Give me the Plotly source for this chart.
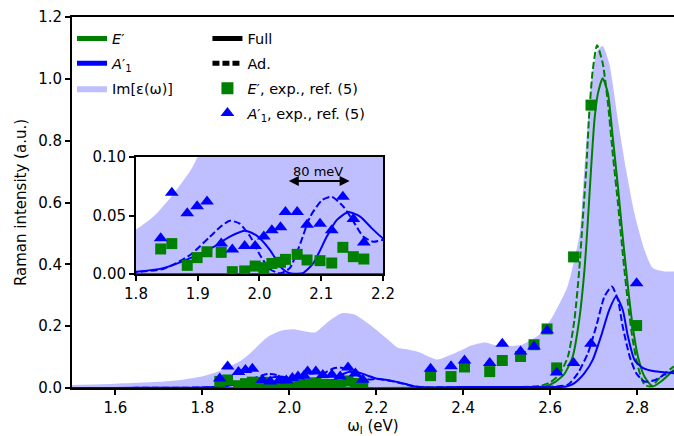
import plotly.graph_objects as go

# ---------------- data ----------------
eps_x = [1.50, 1.60, 1.70, 1.75, 1.80, 1.83, 1.86, 1.89, 1.91, 1.93, 1.95, 1.98, 2.01, 2.04, 2.06,
         2.09, 2.12, 2.15, 2.18, 2.22, 2.25, 2.27, 2.30, 2.34, 2.38, 2.42, 2.45, 2.47, 2.50, 2.535,
         2.58, 2.61, 2.64, 2.668, 2.676, 2.687, 2.698, 2.710, 2.721, 2.736, 2.756, 2.775, 2.794,
         2.817, 2.836, 2.863, 2.885]
eps_y = [0.010, 0.014, 0.020, 0.026, 0.038, 0.050, 0.068, 0.090, 0.112, 0.140, 0.165, 0.185, 0.190,
         0.182, 0.180, 0.215, 0.242, 0.238, 0.210, 0.165, 0.130, 0.125, 0.115, 0.092, 0.112, 0.138,
         0.147, 0.140, 0.135, 0.140, 0.178, 0.242, 0.328, 0.500, 0.650, 0.867, 1.028, 1.093, 1.106,
         1.050, 0.867, 0.705, 0.565, 0.447, 0.388, 0.377, 0.377]

e_full_x = [1.50, 1.80, 2.00, 2.20, 2.40, 2.50, 2.55, 2.59, 2.61, 2.633, 2.652, 2.667, 2.679, 2.687,
            2.694, 2.702, 2.710, 2.721, 2.733, 2.744, 2.756, 2.767, 2.779, 2.790, 2.802, 2.817,
            2.836, 2.855, 2.885]
e_full_y = [0.000, 0.000, 0.000, 0.000, 0.001, 0.002, 0.003, 0.006, 0.018, 0.046, 0.102, 0.221, 0.382,
            0.544, 0.705, 0.867, 0.953, 1.002, 0.953, 0.813, 0.651, 0.490, 0.328, 0.199, 0.102,
            0.037, 0.005, 0.021, 0.059]

e_ad_x = [1.50, 1.80, 2.00, 2.20, 2.40, 2.50, 2.55, 2.58, 2.60, 2.621, 2.641, 2.656, 2.667, 2.675,
          2.683, 2.690, 2.698, 2.708, 2.721, 2.733, 2.744, 2.756, 2.767, 2.779, 2.790, 2.802, 2.817,
          2.832, 2.855, 2.885]
e_ad_y = [0.000, 0.000, 0.000, 0.000, 0.001, 0.002, 0.004, 0.008, 0.018, 0.043, 0.102, 0.221, 0.382,
          0.544, 0.705, 0.888, 1.028, 1.109, 1.050, 0.921, 0.759, 0.598, 0.436, 0.275, 0.156, 0.070,
          0.011, 0.005, 0.037, 0.070]

a_full_x = [1.50, 1.60, 1.70, 1.75, 1.80, 1.844, 1.887, 1.925, 1.952, 1.977, 1.995, 2.017, 2.036,
            2.049, 2.060, 2.071, 2.087, 2.109, 2.125, 2.144, 2.163, 2.182, 2.200, 2.225, 2.250,
            2.270, 2.290, 2.320, 2.400, 2.500, 2.600, 2.637, 2.656, 2.679, 2.698, 2.717, 2.736,
            2.752, 2.767, 2.779, 2.794, 2.813, 2.840, 2.885]
a_full_y = [0.000, 0.000, 0.001, 0.001, 0.002, 0.005, 0.0134, 0.023, 0.032, 0.037, 0.033, 0.0205,
            0.005, 0.0006, 0.0003, 0.001, 0.009, 0.032, 0.046, 0.053, 0.049, 0.039, 0.0305, 0.026,
            0.019, 0.012, 0.005, 0.002, 0.003, 0.003, 0.003, 0.005, 0.016, 0.048, 0.091, 0.167,
            0.253, 0.296, 0.253, 0.167, 0.091, 0.065, 0.054, 0.048]

a_ad_x = [1.50, 1.60, 1.70, 1.75, 1.80, 1.844, 1.887, 1.920, 1.936, 1.952, 1.968, 1.985, 2.001,
          2.017, 2.034, 2.049, 2.066, 2.082, 2.101, 2.117, 2.136, 2.152, 2.168, 2.184, 2.200,
          2.225, 2.250, 2.270, 2.290, 2.320, 2.400, 2.500, 2.600, 2.641, 2.664, 2.687, 2.706,
          2.725, 2.742, 2.756, 2.767, 2.783, 2.798, 2.817, 2.840, 2.863, 2.885]
a_ad_y = [0.000, 0.000, 0.001, 0.001, 0.0017, 0.0043, 0.016, 0.032, 0.040, 0.0456, 0.043, 0.032,
          0.016, 0.004, 0.0006, 0.005, 0.026, 0.049, 0.063, 0.066, 0.0575, 0.045, 0.032, 0.0276,
          0.029, 0.025, 0.018, 0.011, 0.004, 0.002, 0.003, 0.003, 0.004, 0.011, 0.048, 0.113,
          0.199, 0.296, 0.328, 0.285, 0.199, 0.102, 0.048, 0.021, 0.025, 0.043, 0.054]

exp_x = [1.840, 1.858, 1.883, 1.899, 1.915, 1.938, 1.956, 1.976, 1.993, 2.007, 2.020, 2.034, 2.042,
         2.061, 2.077, 2.098, 2.117, 2.135, 2.152, 2.169, 2.325, 2.372, 2.403, 2.461, 2.490, 2.532,
         2.563, 2.593, 2.615, 2.654, 2.694, 2.799]
e_exp_y = [0.0214, 0.026, 0.0074, 0.014, 0.019, 0.0185, 0.002, 0.0026, 0.0068, 0.0054, 0.009, 0.010,
           0.0125, 0.0168, 0.012, 0.0114, 0.0094, 0.0228, 0.0148, 0.0128, 0.040, 0.037, 0.068,
           0.053, 0.089, 0.102, 0.140, 0.191, 0.065, 0.424, 0.915, 0.202]
a_exp_y = [0.0305, 0.0695, 0.052, 0.058, 0.062, 0.026, 0.021, 0.024, 0.024, 0.032, 0.0375, 0.040,
           0.053, 0.053, 0.042, 0.043, 0.0375, 0.066, 0.047, 0.027, 0.062, 0.070, 0.089, 0.081,
           0.143, 0.118, 0.134, 0.186, 0.050, 0.081, 0.143, 0.339]

main_xticks = [1.6, 1.8, 2.0, 2.2, 2.4, 2.6, 2.8]
main_xlabels = ["1.6", "1.8", "2.0", "2.2", "2.4", "2.6", "2.8"]
main_yticks = [0.0, 0.2, 0.4, 0.6, 0.8, 1.0, 1.2]
main_ylabels = ["0.0", "0.2", "0.4", "0.6", "0.8", "1.0", "1.2"]
inset_xticks = [1.8, 1.9, 2.0, 2.1, 2.2]
inset_xlabels = ["1.8", "1.9", "2.0", "2.1", "2.2"]
inset_yticks = [0.0, 0.05, 0.10]
inset_ylabels = ["0.00", "0.05", "0.10"]

GREEN = "#008000"
BLUE = "#0000ff"
FILL = "rgba(0,0,255,0.25)"
FONT = "DejaVu Sans"
DASH = "7px,3px"

fig = go.Figure()

def add_set(xa, ya, show):
    main = dict(showlegend=show, xaxis=xa, yaxis=ya)
    fig.add_trace(go.Scatter(x=eps_x, y=eps_y, mode="lines", fill="tozeroy", fillcolor=FILL,
                             line=dict(width=0, shape="spline", smoothing=0.6),
                             name="Im[ε(ω)]", legend="legend", legendrank=3,
                             legendgroup="g3" if show else None, hoverinfo="skip", **main))
    fig.add_trace(go.Scatter(x=e_full_x, y=e_full_y, mode="lines",
                             line=dict(color=GREEN, width=2, shape="spline", smoothing=0.6),
                             name="<i>E</i>′", legend="legend", legendrank=1,
                             legendgroup="g1" if show else None, **main))
    fig.add_trace(go.Scatter(x=e_ad_x, y=e_ad_y, mode="lines",
                             line=dict(color=GREEN, width=2, dash=DASH, shape="spline", smoothing=0.6),
                             showlegend=False, xaxis=xa, yaxis=ya))
    fig.add_trace(go.Scatter(x=a_full_x, y=a_full_y, mode="lines",
                             line=dict(color=BLUE, width=2, shape="spline", smoothing=0.6),
                             name="<i>A</i>′<sub>1</sub>", legend="legend", legendrank=2,
                             legendgroup="g2" if show else None, **main))
    fig.add_trace(go.Scatter(x=a_ad_x, y=a_ad_y, mode="lines",
                             line=dict(color=BLUE, width=2, dash=DASH, shape="spline", smoothing=0.6),
                             showlegend=False, xaxis=xa, yaxis=ya))
    fig.add_trace(go.Scatter(x=exp_x, y=e_exp_y, mode="markers",
                             marker=dict(symbol="square", size=11, color=GREEN),
                             name="<i>E</i>′, exp., ref. (5)", legend="legend2", legendrank=3,
                             legendgroup="h3" if show else None, **main))
    fig.add_trace(go.Scatter(x=exp_x, y=a_exp_y, mode="markers",
                             marker=dict(symbol="triangle-up", size=12, color=BLUE),
                             name="<i>A</i>′<sub>1</sub>, exp., ref. (5)", legend="legend2",
                             legendrank=4, legendgroup="h4" if show else None, **main))

add_set("x", "y", True)
add_set("x2", "y2", False)

# legend-only style entries
fig.add_trace(go.Scatter(x=[None], y=[None], mode="lines", line=dict(color="black", width=2),
                         name="Full", legend="legend2", legendrank=1, legendgroup="h1"))
fig.add_trace(go.Scatter(x=[None], y=[None], mode="lines", line=dict(color="black", width=2, dash=DASH),
                         name="Ad.", legend="legend2", legendrank=2, legendgroup="h2"))

axis_common = dict(showline=True, linecolor="black", linewidth=2, ticks="outside", ticklen=5,
                   tickwidth=1.5, tickcolor="black", showgrid=False, zeroline=False,
                   tickfont=dict(family=FONT, size=15, color="black"))

fig.update_layout(
    width=674, height=436,
    margin=dict(l=72, r=0, t=17, b=48, autoexpand=False),
    paper_bgcolor="white", plot_bgcolor="white",
    font=dict(family=FONT, size=15, color="black"),
    xaxis=dict(range=[1.5, 2.885], tickvals=main_xticks, ticktext=main_xlabels, mirror=True,
               automargin=False,
               title=dict(text="ω<sub>l</sub> (eV)", font=dict(family=FONT, size=15), standoff=4),
               **axis_common),
    yaxis=dict(range=[0, 1.2], tickvals=main_yticks, ticktext=main_ylabels, mirror=False,
               automargin=False,
               title=dict(text="Raman intensity (a.u.)", font=dict(family=FONT, size=15), standoff=8),
               **axis_common),
    xaxis2=dict(domain=[0.1063, 0.5166], anchor="y2", range=[1.8, 2.2], tickvals=inset_xticks,
                ticktext=inset_xlabels, mirror=True, automargin=False, **axis_common),
    yaxis2=dict(domain=[0.3073, 0.6226], anchor="x2", range=[0, 0.10], tickvals=inset_yticks,
                ticktext=inset_ylabels, mirror=True, automargin=False, **axis_common),
    legend=dict(x=0.0, y=0.985, xanchor="left", yanchor="top", bgcolor="rgba(0,0,0,0)",
                font=dict(family=FONT, size=14.5), tracegroupgap=3, itemsizing="constant"),
    legend2=dict(x=0.225, y=0.985, xanchor="left", yanchor="top", bgcolor="rgba(0,0,0,0)",
                 font=dict(family=FONT, size=14.5), tracegroupgap=3, itemsizing="constant"),
    showlegend=True,
)

fig.add_annotation(x=2.146, y=0.0795, ax=2.045, ay=0.0795, xref="x2", yref="y2", axref="x2",
                   ayref="y2", text="", showarrow=True, arrowhead=2, arrowside="end+start",
                   arrowwidth=2, arrowcolor="black", arrowsize=1)
fig.add_annotation(x=2.095, y=0.0875, xref="x2", yref="y2", text="80 meV", showarrow=False,
                   font=dict(family=FONT, size=13, color="black"), yanchor="middle")

fig.write_html("out.html", config={"displayModeBar": False},
               post_script="document.body.style.margin='0';document.body.style.overflow='hidden';")
